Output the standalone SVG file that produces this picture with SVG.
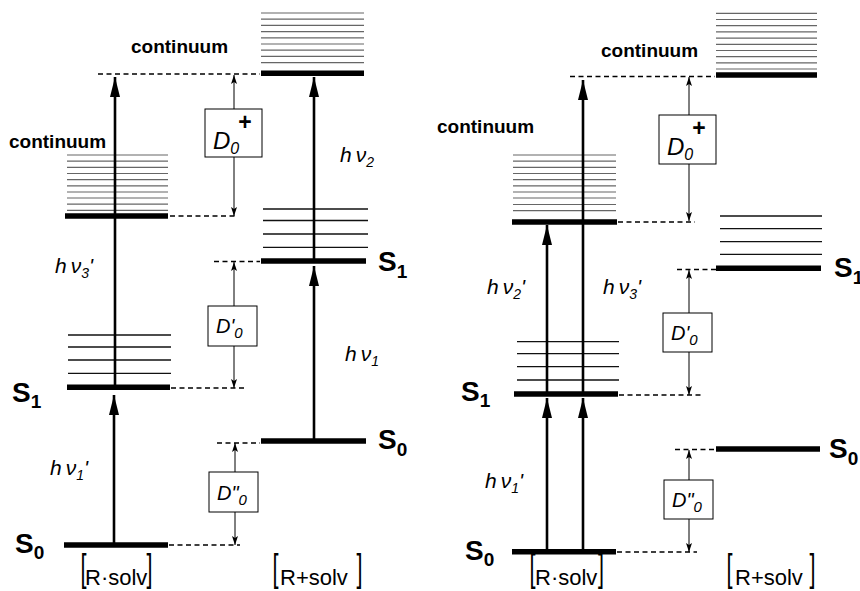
<svg xmlns="http://www.w3.org/2000/svg" width="860" height="591" viewBox="0 0 860 591">
<style>
.bar{stroke:#000;stroke-width:5.5}
.vib{stroke:#111;stroke-width:1.3}
.cont{stroke:#666;stroke-width:1.2}
.dash{stroke:#000;stroke-width:1.5;stroke-dasharray:5 3.5;fill:none}
.big{stroke:#000;stroke-width:2.6;fill:none;marker-end:url(#bh)}
.thin{stroke:#000;stroke-width:1;fill:none;marker-end:url(#sh)}
.box{fill:#fff;stroke:#000;stroke-width:1}
.lbl{font-family:"Liberation Sans",Arial,sans-serif;font-weight:bold;font-size:19px;fill:#000}
.st{font-family:"Liberation Sans",Arial,sans-serif;font-weight:bold;font-size:28px;fill:#000}
.hv{font-family:"Liberation Sans",Arial,sans-serif;font-style:italic;font-size:21px;fill:#000}
.dd{font-family:"Liberation Sans",Arial,sans-serif;font-style:italic;font-size:20px;fill:#000}
.dp{font-family:"Liberation Sans",Arial,sans-serif;font-style:italic;font-size:24px;fill:#000}
.sp{font-family:"Liberation Sans",Arial,sans-serif;font-weight:bold;font-style:normal;font-size:23px;fill:#000}
.br{font-family:"Liberation Sans",Arial,sans-serif;font-size:22px;fill:#000}
.bk{font-family:"Liberation Sans",Arial,sans-serif;font-size:24px;fill:#000}
</style>
<defs>
<marker id="bh" viewBox="0 0 20 10" refX="20" refY="5" markerWidth="20" markerHeight="10" markerUnits="userSpaceOnUse" orient="auto">
<path d="M0,0 L20,5 L0,10 z" fill="#000"/>
</marker>
<marker id="sh" viewBox="0 0 9 6" refX="9" refY="3" markerWidth="9" markerHeight="6" markerUnits="userSpaceOnUse" orient="auto">
<path d="M0,0 L9,3 L0,6 L2,3 z" fill="#000"/>
</marker>
</defs>

<!-- ===== LEFT PANEL ===== -->
<g id="L-cont-top">
<g class="cont">
<line x1="261" y1="13" x2="364" y2="13"/>
<line x1="261" y1="19.2" x2="364" y2="19.2"/>
<line x1="261" y1="25.4" x2="364" y2="25.4"/>
<line x1="261" y1="31.6" x2="364" y2="31.6"/>
<line x1="261" y1="37.8" x2="364" y2="37.8"/>
<line x1="261" y1="44" x2="364" y2="44"/>
<line x1="261" y1="50.2" x2="364" y2="50.2"/>
<line x1="261" y1="56.4" x2="364" y2="56.4"/>
<line x1="261" y1="62.6" x2="364" y2="62.6"/>
</g>
<line class="bar" x1="261" y1="73.3" x2="364" y2="73.3"/>
<text class="lbl" x="131" y="53">continuum</text>
</g>

<g id="L-cont-low">
<g class="cont">
<line x1="67" y1="155" x2="168" y2="155"/>
<line x1="67" y1="161.1" x2="168" y2="161.1"/>
<line x1="67" y1="167.3" x2="168" y2="167.3"/>
<line x1="67" y1="173.5" x2="168" y2="173.5"/>
<line x1="67" y1="179.7" x2="168" y2="179.7"/>
<line x1="67" y1="185.8" x2="168" y2="185.8"/>
<line x1="67" y1="192" x2="168" y2="192"/>
<line x1="67" y1="198" x2="168" y2="198"/>
<line x1="67" y1="204.2" x2="168" y2="204.2"/>
<line x1="67" y1="210.3" x2="168" y2="210.3"/>
</g>
<line class="bar" x1="65" y1="216" x2="168" y2="216"/>
<text class="lbl" x="9" y="147.5">continuum</text>
</g>

<g id="L-S1-left">
<g class="vib">
<line x1="68" y1="335" x2="171" y2="335"/>
<line x1="68" y1="347" x2="171" y2="347"/>
<line x1="68" y1="360" x2="171" y2="360"/>
<line x1="68" y1="373.3" x2="171" y2="373.3"/>
</g>
<line class="bar" x1="67" y1="387.3" x2="170" y2="387.3"/>
<text class="st" x="12" y="402">S<tspan font-size="19" dy="6">1</tspan></text>
</g>

<g id="L-S0-left">
<line class="bar" x1="64" y1="545" x2="168" y2="545"/>
<text class="st" x="15" y="553">S<tspan font-size="19" dy="6">0</tspan></text>
</g>

<g id="L-S1-right">
<g class="vib">
<line x1="263" y1="209" x2="368" y2="209"/>
<line x1="263" y1="220.5" x2="368" y2="220.5"/>
<line x1="263" y1="234" x2="368" y2="234"/>
<line x1="263" y1="247.3" x2="368" y2="247.3"/>
</g>
<line class="bar" x1="261" y1="261" x2="366" y2="261"/>
<text class="st" x="378" y="271">S<tspan font-size="19" dy="7">1</tspan></text>
</g>

<g id="L-S0-right">
<line class="bar" x1="261" y1="441" x2="366" y2="441"/>
<text class="st" x="378" y="449">S<tspan font-size="19" dy="7">0</tspan></text>
</g>

<g id="L-box-D0plus">
<rect class="box" x="205" y="109" width="57" height="48"/>
<text class="dp" x="213" y="149">D<tspan font-size="16" dy="5">0</tspan><tspan class="sp" dx="-1" dy="-24">+</tspan></text>
</g>
<g id="L-box-D1">
<rect class="box" x="208" y="306" width="49" height="40"/>
<text class="dd" x="216" y="333">D'<tspan font-size="15" dy="5">0</tspan></text>
</g>
<g id="L-box-D2">
<rect class="box" x="209" y="472" width="49" height="40"/>
<text class="dd" x="217" y="500">D"<tspan font-size="15" dy="5">0</tspan></text>
</g>

<g id="L-labels">
<text class="hv" x="340" y="162">h<tspan dx="4">ν</tspan><tspan font-size="14" dy="5">2</tspan></text>
<text class="hv" x="55" y="273">h<tspan dx="4">ν</tspan><tspan font-size="14" dy="5">3</tspan><tspan dy="-5">'</tspan></text>
<text class="hv" x="345" y="361">h<tspan dx="4">ν</tspan><tspan font-size="14" dy="5">1</tspan></text>
<text class="hv" x="50" y="475">h<tspan dx="4">ν</tspan><tspan font-size="14" dy="5">1</tspan><tspan dy="-5">'</tspan></text>
</g>
<g id="L-species">
<text class="bk" transform="translate(80.5,581) scale(0.9,1.6)">[</text>
<text class="br" x="85" y="585">R·solv</text>
<text class="bk" transform="translate(146.5,581) scale(0.9,1.6)">]</text>
<text class="bk" transform="translate(272.5,581) scale(0.9,1.6)">[</text>
<text class="br" x="280" y="585">R+solv</text>
<text class="bk" transform="translate(356.5,581) scale(0.9,1.6)">]</text>
</g>

<!-- ===== RIGHT PANEL ===== -->
<g id="R-cont-top">
<g class="cont">
<line x1="716" y1="13.3" x2="817" y2="13.3"/>
<line x1="716" y1="19.5" x2="817" y2="19.5"/>
<line x1="716" y1="25.7" x2="817" y2="25.7"/>
<line x1="716" y1="31.9" x2="817" y2="31.9"/>
<line x1="716" y1="38.1" x2="817" y2="38.1"/>
<line x1="716" y1="44.3" x2="817" y2="44.3"/>
<line x1="716" y1="50.5" x2="817" y2="50.5"/>
<line x1="716" y1="56.7" x2="817" y2="56.7"/>
<line x1="716" y1="62.9" x2="817" y2="62.9"/>
<line x1="716" y1="69" x2="817" y2="69"/>
</g>
<line class="bar" x1="716" y1="75" x2="817" y2="75"/>
<text class="lbl" x="601" y="57">continuum</text>
</g>

<g id="R-cont-low">
<g class="cont">
<line x1="513" y1="155" x2="616" y2="155"/>
<line x1="513" y1="161.1" x2="616" y2="161.1"/>
<line x1="513" y1="167.3" x2="616" y2="167.3"/>
<line x1="513" y1="173.5" x2="616" y2="173.5"/>
<line x1="513" y1="179.7" x2="616" y2="179.7"/>
<line x1="513" y1="185.8" x2="616" y2="185.8"/>
<line x1="513" y1="192" x2="616" y2="192"/>
<line x1="513" y1="198" x2="616" y2="198"/>
<line x1="513" y1="204.5" x2="616" y2="204.5"/>
<line x1="513" y1="210.7" x2="616" y2="210.7"/>
</g>
<line class="bar" x1="512" y1="222" x2="617" y2="222"/>
<text class="lbl" x="437" y="133">continuum</text>
</g>

<g id="R-S1-left">
<g class="vib">
<line x1="517" y1="341.7" x2="619" y2="341.7"/>
<line x1="517" y1="353.7" x2="619" y2="353.7"/>
<line x1="517" y1="366.7" x2="619" y2="366.7"/>
<line x1="517" y1="380" x2="619" y2="380"/>
</g>
<line class="bar" x1="514" y1="394" x2="618" y2="394"/>
<text class="st" x="461" y="401">S<tspan font-size="19" dy="6">1</tspan></text>
</g>

<g id="R-S0-left">
<line class="bar" x1="512" y1="551.7" x2="616" y2="551.7"/>
<text class="st" x="465" y="560">S<tspan font-size="19" dy="6">0</tspan></text>
</g>

<g id="R-S1-right">
<g class="vib">
<line x1="720" y1="216" x2="822" y2="216"/>
<line x1="720" y1="228.7" x2="822" y2="228.7"/>
<line x1="720" y1="241.7" x2="822" y2="241.7"/>
<line x1="720" y1="254.3" x2="822" y2="254.3"/>
</g>
<line class="bar" x1="716" y1="268.3" x2="821" y2="268.3"/>
<text class="st" x="834" y="277">S<tspan font-size="19" dy="7">1</tspan></text>
</g>

<g id="R-S0-right">
<line class="bar" x1="716" y1="449" x2="820" y2="449"/>
<text class="st" x="829" y="458">S<tspan font-size="19" dy="7">0</tspan></text>
</g>

<g id="R-box-D0plus">
<rect class="box" x="659" y="115" width="57" height="49"/>
<text class="dp" x="667" y="155">D<tspan font-size="16" dy="5">0</tspan><tspan class="sp" dx="-1" dy="-24">+</tspan></text>
</g>
<g id="R-box-D1">
<rect class="box" x="663" y="313" width="49" height="39"/>
<text class="dd" x="671" y="340">D'<tspan font-size="15" dy="5">0</tspan></text>
</g>
<g id="R-box-D2">
<rect class="box" x="664" y="480" width="49" height="39"/>
<text class="dd" x="672" y="507">D"<tspan font-size="15" dy="5">0</tspan></text>
</g>

<g id="R-labels">
<text class="hv" x="487" y="294">h<tspan dx="4">ν</tspan><tspan font-size="14" dy="5">2</tspan><tspan dy="-5">'</tspan></text>
<text class="hv" x="603" y="294">h<tspan dx="4">ν</tspan><tspan font-size="14" dy="5">3</tspan><tspan dy="-5">'</tspan></text>
<text class="hv" x="485" y="488">h<tspan dx="4">ν</tspan><tspan font-size="14" dy="5">1</tspan><tspan dy="-5">'</tspan></text>
</g>
<g id="R-species">
<text class="bk" transform="translate(529.5,581) scale(0.9,1.6)">[</text>
<text class="br" x="535" y="585">R·solv</text>
<text class="bk" transform="translate(598,581) scale(0.9,1.6)">]</text>
<text class="bk" transform="translate(726.5,581) scale(0.9,1.6)">[</text>
<text class="br" x="735" y="585">R+solv</text>
<text class="bk" transform="translate(809.5,581) scale(0.9,1.6)">]</text>
</g>

<!-- ===== CONNECTORS ===== -->
<g id="connectors">
<g id="dashes">
<line class="dash" x1="98" y1="74" x2="260" y2="74"/>
<line class="dash" x1="170" y1="216" x2="236" y2="216"/>
<line class="dash" x1="214" y1="261.5" x2="260" y2="261.5"/>
<line class="dash" x1="171" y1="388" x2="245" y2="388"/>
<line class="dash" x1="217" y1="443" x2="260" y2="443"/>
<line class="dash" x1="169" y1="545" x2="240" y2="545"/>
<line class="dash" x1="570" y1="76.5" x2="715" y2="76.5"/>
<line class="dash" x1="618" y1="222" x2="695" y2="222"/>
<line class="dash" x1="677" y1="269.5" x2="716" y2="269.5"/>
<line class="dash" x1="619" y1="395" x2="702" y2="395"/>
<line class="dash" x1="675" y1="449.5" x2="716" y2="449.5"/>
<line class="dash" x1="617" y1="552" x2="697" y2="552"/>
</g>
<g id="gaps">
<line class="thin" x1="234" y1="109" x2="234" y2="75"/>
<line class="thin" x1="234" y1="157" x2="234" y2="216"/>
<line class="thin" x1="234" y1="306" x2="234" y2="262"/>
<line class="thin" x1="234" y1="346" x2="234" y2="388"/>
<line class="thin" x1="235" y1="472" x2="235" y2="443"/>
<line class="thin" x1="235" y1="512" x2="235" y2="545"/>
<line class="thin" x1="689" y1="115" x2="689" y2="77"/>
<line class="thin" x1="689" y1="164" x2="689" y2="221"/>
<line class="thin" x1="689" y1="313" x2="689" y2="270"/>
<line class="thin" x1="689" y1="352" x2="689" y2="395"/>
<line class="thin" x1="689" y1="480" x2="689" y2="450"/>
<line class="thin" x1="689" y1="519" x2="689" y2="552"/>
</g>
<g id="photons">
<line class="big" x1="114" y1="545" x2="114" y2="395"/>
<line class="big" x1="115" y1="387" x2="115" y2="77"/>
<line class="big" x1="314" y1="441" x2="314" y2="266"/>
<line class="big" x1="314" y1="261" x2="314" y2="77"/>
<line class="big" x1="547" y1="551" x2="547" y2="398"/>
<line class="big" x1="547" y1="394" x2="547" y2="225"/>
<line class="big" x1="583" y1="551" x2="583" y2="398"/>
<line class="big" x1="583" y1="394" x2="583" y2="80"/>
</g>
</g>
</svg>
